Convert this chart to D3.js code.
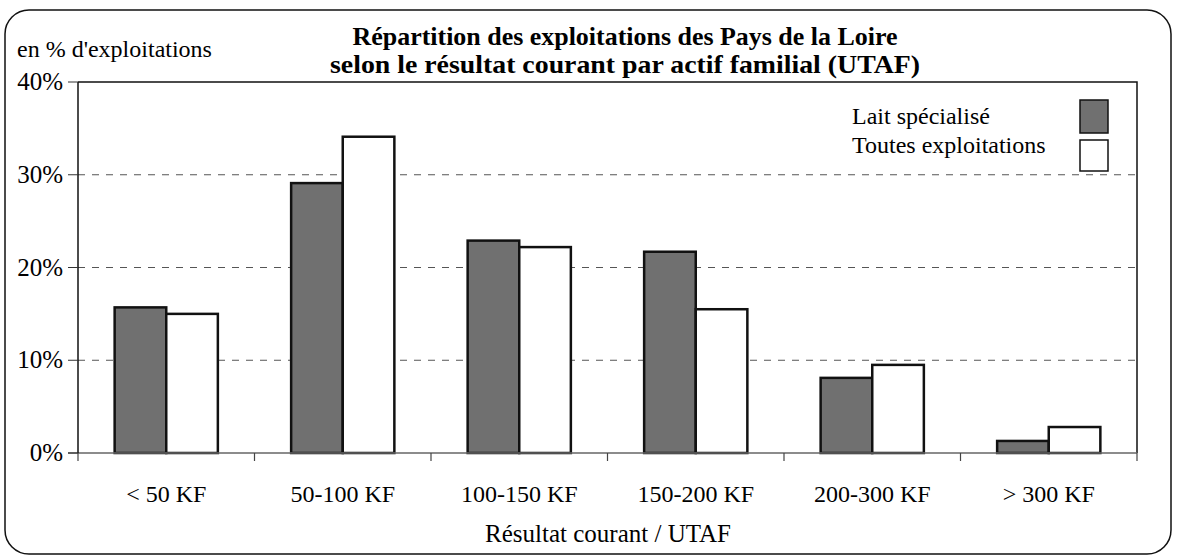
<!DOCTYPE html>
<html>
<head>
<meta charset="utf-8">
<script src="https://cdn.jsdelivr.net/npm/d3@7"></script>
<style>
  body { margin: 0; background: #fff; }
</style>
</head>
<body>
<svg id="chart" width="1177" height="560"></svg>
<script>
// data
const categories = ["< 50 KF", "50-100 KF", "100-150 KF", "150-200 KF", "200-300 KF", "> 300 KF"];
const laitSpecialise = [15.7, 29.1, 22.9, 21.7, 8.1, 1.3];
const toutesExploitations = [15.0, 34.1, 22.2, 15.5, 9.5, 2.8];
const seriesNames = ["Lait spécialisé", "Toutes exploitations"];
const yTicks = [0, 10, 20, 30, 40];

const svg = d3.select("#chart");
const margin = { top: 82, right: 40, bottom: 107, left: 78 };
const width = 1177, height = 560;
const serif = "\"Liberation Serif\", serif";

// * outer frame
svg.append("rect")
  .attr("x", 5).attr("y", 10)
  .attr("width", 1166).attr("height", 544)
  .attr("rx", 24)
  .style("fill", "none").style("stroke", "#111").style("stroke-width", 1.5);

const x = d3.scaleBand().domain(categories).range([margin.left, width - margin.right]);
const inner = d3.scaleBand().domain(seriesNames).range([0, x.bandwidth()]).paddingOuter(0.71).paddingInner(0);
const y = d3.scaleLinear().domain([0, 40]).range([height - margin.bottom, margin.top]);

// * dashed grid lines
svg.append("g")
  .selectAll("line")
  .data(yTicks.filter((d) => d > 0 && d < 40))
  .enter()
  .append("line")
  .attr("x1", margin.left).attr("x2", width - margin.right)
  .attr("y1", (d) => y(d)).attr("y2", (d) => y(d))
  .style("stroke", "#555").style("stroke-dasharray", "7,7").style("stroke-width", 1);

// * top and right border of the plot area
svg.append("path")
  .attr("d", `M${margin.left},${y(40)}H${width - margin.right}V${y(0)}`)
  .style("fill", "none").style("stroke", "#111").style("stroke-width", 1.5);

// * bars
const fills = { "Lait spécialisé": "#707070", "Toutes exploitations": "#ffffff" };
const rows = categories.map((c, i) => ({ cat: c, values: [
  { name: seriesNames[0], v: laitSpecialise[i] },
  { name: seriesNames[1], v: toutesExploitations[i] },
] }));

const groups = svg.append("g")
  .selectAll("g")
  .data(rows)
  .enter()
  .append("g")
  .attr("transform", (d) => `translate(${x(d.cat)},0)`);

groups.selectAll("rect")
  .data((d) => d.values)
  .enter()
  .append("rect")
  .attr("x", (d) => inner(d.name))
  .attr("width", inner.bandwidth())
  .attr("y", (d) => y(d.v))
  .attr("height", (d) => y(0) - y(d.v))
  .style("fill", (d) => fills[d.name])
  .style("stroke", "#111")
  .style("stroke-width", 2.5);

// * x axis
const xAxis = svg.append("g").attr("transform", `translate(0,${y(0)})`);
xAxis.append("line")
  .attr("x1", margin.left - 10).attr("x2", width - margin.right)
  .style("stroke", "#666").style("stroke-width", 1.5);
xAxis.selectAll(".tk")
  .data(categories.concat(["end"]))
  .enter()
  .append("line")
  .attr("x1", (d, i) => margin.left + i * x.step())
  .attr("x2", (d, i) => margin.left + i * x.step())
  .attr("y1", 0).attr("y2", 8)
  .style("stroke", "#444").style("stroke-width", 1.2);
xAxis.selectAll("text")
  .data(categories)
  .enter()
  .append("text")
  .attr("x", (d) => x(d) + x.bandwidth() / 2)
  .attr("y", 49)
  .attr("text-anchor", "middle")
  .style("font-family", serif)
  .style("font-size", "24px")
  .text((d) => d);

// * y axis
const yAxis = svg.append("g");
yAxis.append("line")
  .attr("x1", margin.left).attr("x2", margin.left)
  .attr("y1", y(40)).attr("y2", y(0))
  .style("stroke", "#111").style("stroke-width", 1.5);
yAxis.selectAll(".tk")
  .data(yTicks)
  .enter()
  .append("line")
  .attr("x1", margin.left - 10).attr("x2", margin.left)
  .attr("y1", (d) => y(d)).attr("y2", (d) => y(d))
  .style("stroke", "#333");
yAxis.selectAll("text")
  .data(yTicks)
  .enter()
  .append("text")
  .attr("x", 63)
  .attr("y", (d) => y(d) + 8)
  .attr("text-anchor", "end")
  .style("font-family", serif)
  .style("font-size", "25px")
  .text((d) => `${d}%`);

svg.append("text")
  .attr("x", 17).attr("y", 57)
  .style("font-family", serif)
  .style("font-size", "24px")
  .text("en % d'exploitations");

// * title
const title = svg.append("text")
  .attr("text-anchor", "middle")
  .style("font-family", serif)
  .style("font-size", "26px")
  .style("font-weight", "bold");
title.append("tspan").attr("x", 625).attr("y", 45)
  .attr("textLength", 545).attr("lengthAdjust", "spacingAndGlyphs")
  .text("Répartition des exploitations des Pays de la Loire");
title.append("tspan").attr("x", 625).attr("y", 73)
  .attr("textLength", 590).attr("lengthAdjust", "spacingAndGlyphs")
  .text("selon le résultat courant par actif familial (UTAF)");

svg.append("text")
  .attr("x", 608).attr("y", 542)
  .attr("text-anchor", "middle")
  .style("font-family", serif)
  .style("font-size", "25px")
  .text("Résultat courant / UTAF");

// * legend
const legend = svg.append("g");
legend.selectAll("text")
  .data(seriesNames)
  .enter()
  .append("text")
  .attr("x", 852)
  .attr("y", (d, i) => 124 + i * 29)
  .style("font-family", serif)
  .style("font-size", "24px")
  .text((d) => d);
legend.selectAll("rect")
  .data(seriesNames)
  .enter()
  .append("rect")
  .attr("x", 1080)
  .attr("y", (d, i) => 100 + i * 40)
  .attr("width", 28)
  .attr("height", (d, i) => (i === 0 ? 33 : 31))
  .style("fill", (d) => fills[d])
  .style("stroke", "#111")
  .style("stroke-width", 1.5);
</script>
</body>
</html>
